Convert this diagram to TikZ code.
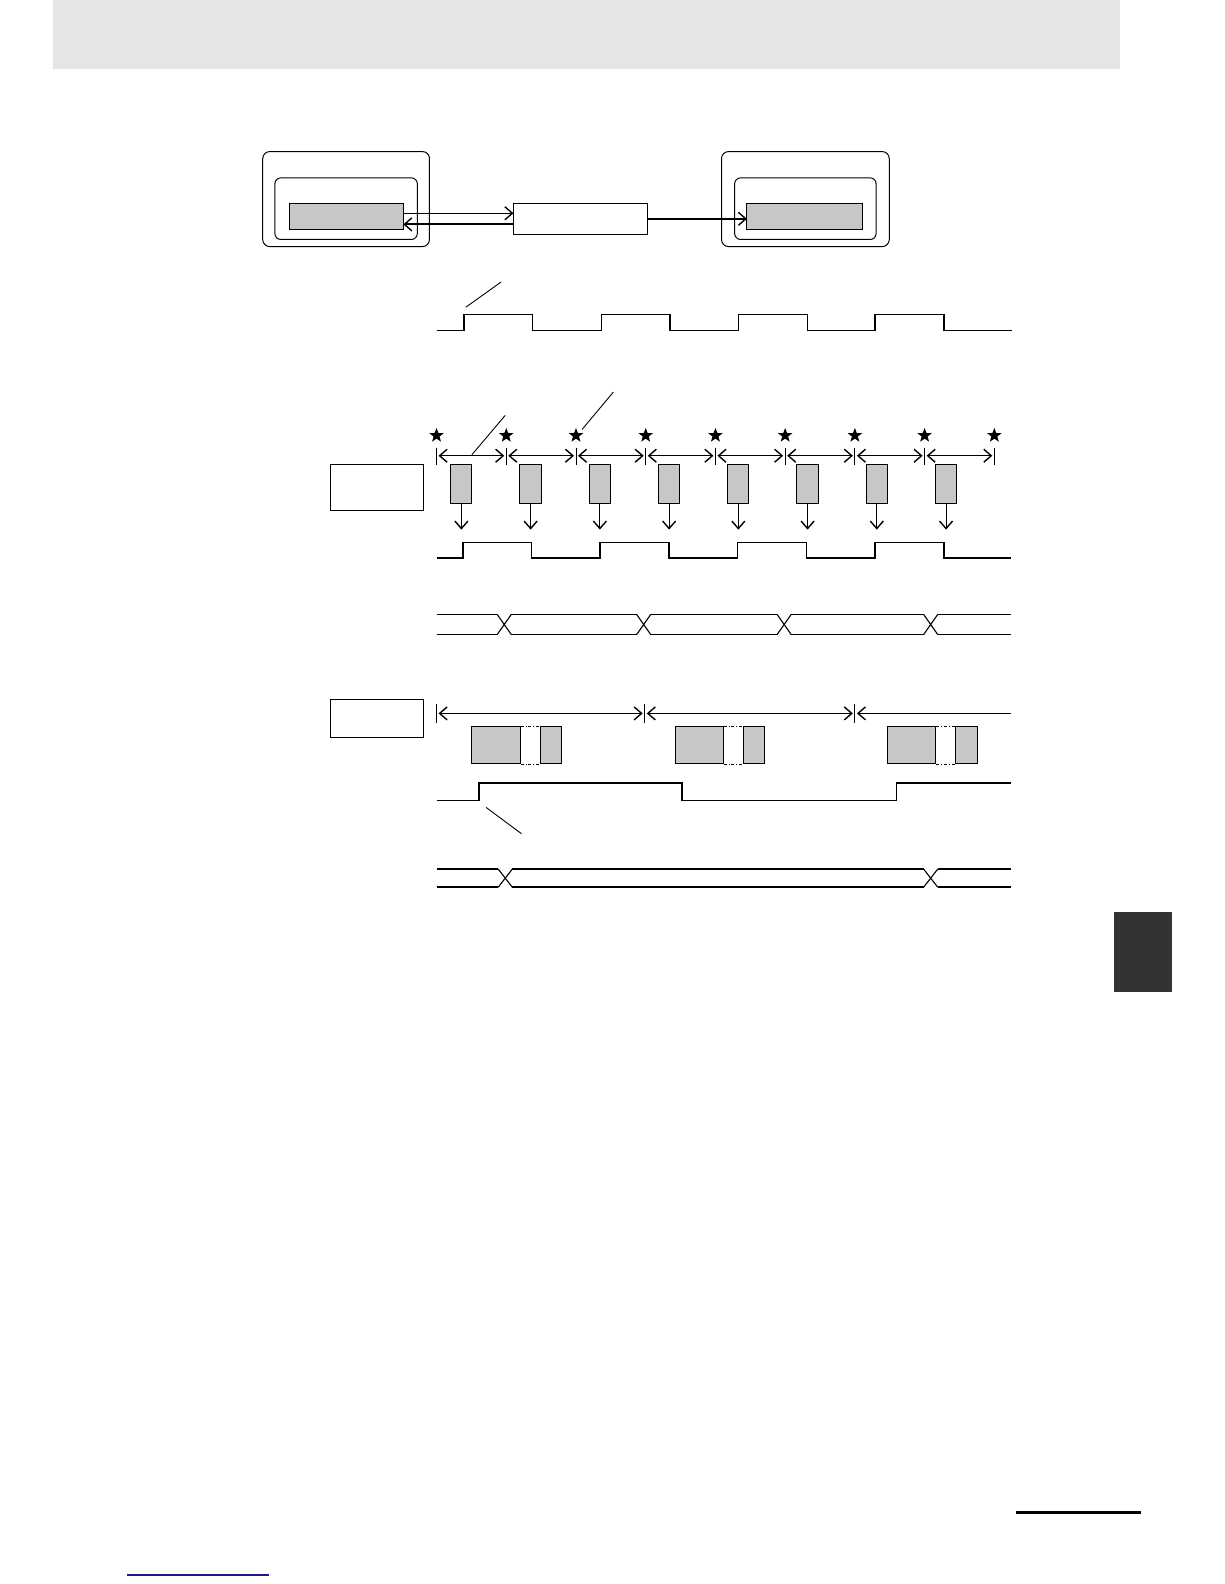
\documentclass[tikz,border=0pt]{standalone}
\usetikzlibrary{shapes.geometric,arrows.meta}
\definecolor{headgray}{HTML}{E5E5E5}
\definecolor{blockgray}{HTML}{C6C8C8}
\definecolor{tabgray}{HTML}{333333}
\definecolor{linkblue}{HTML}{1A1A8C}
\tikzset{
  unitbox/.style={draw,rounded corners=7pt,line width=1pt,inner sep=0pt,outer sep=0pt},
  databox/.style={draw,fill=blockgray,line width=1pt,inner sep=0pt,outer sep=0pt},
  plainbox/.style={draw,fill=white,line width=1pt,inner sep=0pt,outer sep=0pt},
  mark star/.style={star,star points=5,star point ratio=2.4,fill=black,minimum size=15pt,inner sep=0pt},
  wave/.style={line width=1.5pt},
  note line/.style={line width=0.9pt},
}
\begin{document}
\begin{tikzpicture}[x=1pt,y=-1pt,>={Straight Barb[length=7.5pt,width=13pt,line width=1.4pt]}]
    \useasboundingbox (0,0) rectangle (1224,1584);
    % page foot
    \draw[line width=3pt] (1016,1512) -- (1141,1512);
    \draw[linkblue,line width=1.5pt] (127,1575) -- (269,1575);

  \begin{scope}[scale=1.0105,transform shape]
    % page
    \fill[headgray] (52,0) rectangle (1108,68);
    \fill[tabgray] (1102,903) rectangle (1160,982);

    % units
    \node[unitbox,minimum width=165pt,minimum height=94pt] (lout) at (342.5,197) {};
    \node[unitbox,rounded corners=6pt,minimum width=141pt,minimum height=61pt] (lin) at (342.5,206.5) {};
    \node[databox,minimum width=113pt,minimum height=26pt] (lmem) at (342.5,214) {};
    \node[plainbox,minimum width=133pt,minimum height=31pt] (link) at (574.5,216.5) {};
    \node[unitbox,minimum width=166pt,minimum height=94pt] (rout) at (797,197) {};
    \node[unitbox,rounded corners=6pt,minimum width=140pt,minimum height=61pt] (rin) at (797,206.5) {};
    \node[databox,minimum width=115pt,minimum height=26pt] (rmem) at (796.5,214) {};
    \draw[->,line width=1.4pt] ([yshift=3pt]lmem.east) -- ([yshift=3pt]lmem.east -| link.west);
    \draw[<-,line width=1.9pt] ([yshift=-8pt]lmem.east) -- ([yshift=-8pt]lmem.east -| link.west);
    \draw[->,line width=1.4pt] (link.east) -- (link.east -| rmem.west);

    % clock
    \draw[wave] (432,327) foreach \x in {459,595,731,866} { -- (\x,327) -- (\x,311) -- (\x+68,311) -- (\x+68,327) } -- (1001,327);
    \draw[note line] (461,304) -- (496,279);

    % cycles
    \node[plainbox,minimum width=92pt,minimum height=45pt] (cyclab) at (373,482.5) {};
    \foreach \i in {0,...,8} {
      \node[mark star] (st\i) at (432+69*\i,431) {};
      \draw[line width=0.8pt] (432+69*\i,443) -- (432+69*\i,460);
    }
    \foreach \i in {0,...,7} {
      \draw[<->,line width=1.2pt] (434+69*\i,451) -- (499+69*\i,451);
      \node[databox,minimum width=21pt,minimum height=38pt] (pk\i) at (456.5+68.5*\i,479) {};
      \coordinate (pkend\i) at (456.5+68.5*\i,524);
      \draw[->,line width=1.1pt] (pk\i.south) -- (pkend\i);
    }
    \draw[note line] (467,450) -- (500,411);
    \draw[note line] (576,425) -- (607,388);
    \draw[wave] (432,552) foreach \x in {458,594,730,866} { -- (\x,552) -- (\x,537) -- (\x+68,537) -- (\x+68,552) } -- (1000,552);
    \foreach \a/\b in {432/492,506/630,644/769,783/914,928/1000}
      \draw[line width=1.1pt] (\a,608) -- (\b,608) (\a,628) -- (\b,628);
    \foreach \c in {499,637,776,921}
      \draw[line width=1.1pt] (\c-7,608) -- (\c+7,628) (\c-7,628) -- (\c+7,608);

    % task
    \node[plainbox,minimum width=92pt,minimum height=38pt] (tasklab) at (373,711) {};
    \foreach \x in {432,638,846}
      \draw[line width=0.8pt] (\x,697) -- (\x,715);
    \draw[<->,line width=1.2pt] (434,706) -- (636,706);
    \draw[<->,line width=1.2pt] (640,706) -- (844,706);
    \draw[<-,line width=1.2pt] (848,706) -- (1000,706);
    \foreach \x [count=\n] in {467,668,878} {
      \node[databox,minimum width=48pt,minimum height=37pt] (big\n) at (\x+24,737.5) {};
      \node[databox,minimum width=21pt,minimum height=37pt] (small\n) at (\x+78.5,737.5) {};
      \draw[line width=0.8pt,dash dot] (big\n.north east) -- (small\n.north west);
      \draw[line width=0.8pt,dash dot] (big\n.south east) -- (small\n.south west);
    }
    \draw[wave] (432,792) -- (474,792) -- (474,775) -- (675,775) -- (675,792) -- (887,792) -- (887,775) -- (1000,775);
    \draw[note line] (481,799) -- (516,825);
    \foreach \a/\b in {432/493,507/914,928/1000}
      \draw[line width=1.1pt] (\a,860) -- (\b,860);
    \foreach \a/\b in {432/493,507/914,928/1000}
      \draw[line width=2pt] (\a,878) -- (\b,878);
    \foreach \c in {500,921}
      \draw[line width=1.1pt] (\c-7,860) -- (\c+7,878) (\c-7,878) -- (\c+7,860);
  \end{scope}
\end{tikzpicture}
\end{document}
